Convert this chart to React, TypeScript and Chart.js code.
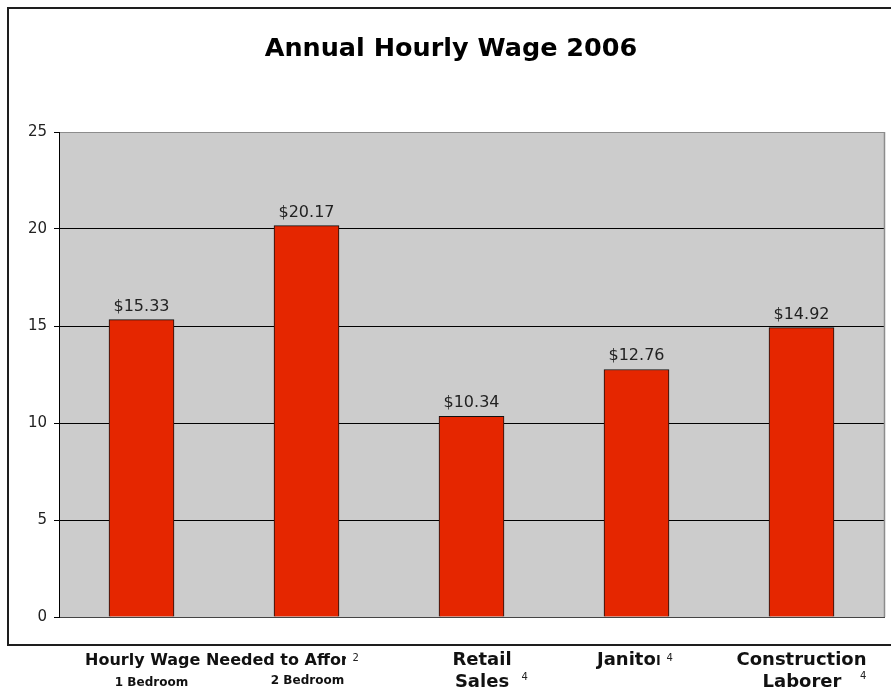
import React, { useEffect, useRef } from "react";
import { Chart, registerables } from "chart.js";

Chart.register(...registerables);

const categories = ["1 Bedroom", "2 Bedroom", "Retail Sales", "Janitor", "Construction Laborer"];
const wages = [15.33, 20.17, 10.34, 12.76, 14.92];
const yTickValues = [0, 5, 10, 15, 20, 25];
const chartTitle = "Annual Hourly Wage 2006";
const groupHeader = "Hourly Wage Needed to Afford";

const FONT = "'DejaVu Sans', Verdana, sans-serif";

const decorPlugin = {
  id: "decor",
  beforeDraw(chart: any) {
    const { ctx, chartArea } = chart;
    ctx.save();
    ctx.fillStyle = "#ffffff";
    ctx.fillRect(0, 0, chart.width, chart.height);
    ctx.fillStyle = "#cccccc";
    ctx.fillRect(chartArea.left, chartArea.top, chartArea.right - chartArea.left, chartArea.bottom - chartArea.top);
    // outer frame (open on right)
    ctx.strokeStyle = "#1e1e1e";
    ctx.lineWidth = 2;
    ctx.beginPath();
    ctx.moveTo(chart.width + 2, 8);
    ctx.lineTo(8, 8);
    ctx.lineTo(8, 645);
    ctx.lineTo(chart.width + 2, 645);
    ctx.stroke();
    // title
    ctx.fillStyle = "#000";
    ctx.font = `bold 25.5px ${FONT}`;
    ctx.textAlign = "center";
    ctx.textBaseline = "alphabetic";
    ctx.fillText(chartTitle, 451, 56);
    ctx.restore();
  },
  afterDatasetsDraw(chart: any) {
    const { ctx, chartArea } = chart;
    const meta = chart.getDatasetMeta(0);
    ctx.save();
    ctx.font = `16px ${FONT}`;
    ctx.fillStyle = "#222";
    ctx.textAlign = "center";
    ctx.textBaseline = "alphabetic";
    meta.data.forEach((bar: any, i: number) => {
      ctx.fillText("$" + wages[i].toFixed(2), bar.x, bar.y - 9);
    });
    // right plot edge
    ctx.strokeStyle = "#8c8c8c";
    ctx.lineWidth = 1.5;
    ctx.beginPath();
    ctx.moveTo(chartArea.right + 0.5, chartArea.top);
    ctx.lineTo(chartArea.right + 0.5, chartArea.bottom);
    ctx.stroke();
    ctx.restore();
  },
  afterDraw(chart: any) {
    const { ctx } = chart;
    const xs = chart.scales.x;
    const p = categories.map((_, i) => xs.getPixelForValue(i));
    const txt = (
      s: string,
      x: number,
      y: number,
      font: string,
      align: CanvasTextAlign,
      color = "#111",
      clipRight?: number
    ) => {
      ctx.save();
      if (clipRight !== undefined) {
        ctx.beginPath();
        ctx.rect(0, 0, clipRight, chart.height);
        ctx.clip();
      }
      ctx.font = font;
      ctx.fillStyle = color;
      ctx.textAlign = align;
      ctx.textBaseline = "alphabetic";
      ctx.fillText(s, x, y);
      ctx.restore();
    };
    const b16 = `bold 16px ${FONT}`;
    const b18 = `bold 18px ${FONT}`;
    const b12 = `bold 12px ${FONT}`;
    const sup = `10px ${FONT}`;
    const [bed1, bed2] = [categories[0], categories[1]];
    const [retail, sales] = categories[2].split(" ");
    const janitor = categories[3];
    const [constr, laborer] = categories[4].split(" ");

    txt(groupHeader, p[0] - 56.5, 665, b16, "left", "#111", p[1] + 39.5);
    txt("2", p[1] + 46, 661, sup, "left", "#222");
    txt(bed1, p[0] + 10, 686, b12, "center");
    txt(bed2, p[1] + 1, 684, b12, "center");

    txt(retail, p[2] + 10.5, 665, b18, "center");
    txt(sales, p[2] + 10.5, 687, b18, "center");
    txt("4", p[2] + 50, 680, sup, "left", "#222");

    txt(janitor, p[3] - 39.5, 665, b18, "left", "#111", p[3] + 23);
    txt("4", p[3] + 30, 661, sup, "left", "#222");

    txt(constr, p[4], 665, b18, "center");
    txt(laborer, p[4] + 0.5, 687, b18, "center");
    txt("4", p[4] + 58.5, 679, sup, "left", "#222");
  },
};

export default function App() {
  const canvasRef = useRef<HTMLCanvasElement | null>(null);

  useEffect(() => {
    if (!canvasRef.current) return;
    const chart = new Chart(canvasRef.current, {
      type: "bar",
      data: {
        labels: categories,
        datasets: [
          {
            data: wages,
            backgroundColor: "#e52600",
            borderColor: "#111",
            borderWidth: 1,
            barThickness: 65,
          },
        ],
      },
      options: {
        animation: false,
        responsive: false,
        devicePixelRatio: 1,
        layout: { padding: { left: 8, right: 7, top: 132, bottom: 73 } },
        plugins: {
          legend: { display: false },
          title: { display: false },
          tooltip: { enabled: false },
        },
        scales: {
          x: {
            ticks: { display: false },
            grid: { display: false, drawTicks: false },
            border: { display: true, color: "#444", width: 1 },
          },
          y: {
            min: 0,
            max: 25,
            afterBuildTicks: (scale: any) => {
              scale.ticks = yTickValues.map((v) => ({ value: v }));
            },
            afterFit: (scale: any) => {
              scale.width = 51;
            },
            ticks: {
              font: { family: FONT, size: 15 },
              color: "#222",
              padding: 7,
            },
            grid: {
              color: (c: any) => (c.tick && c.tick.value === 25 ? "#8c8c8c" : "#000"),
              tickColor: "#000",
              tickLength: 5,
              lineWidth: 1,
            },
            border: { display: true, color: "#000", width: 1 },
          },
        },
      },
      plugins: [decorPlugin],
    });
    return () => chart.destroy();
  }, []);

  return (
    <div style={{ position: "absolute", left: 0, top: 0, width: 891, height: 690, background: "#fff" }}>
      <canvas ref={canvasRef} width={891} height={690} style={{ display: "block" }} />
    </div>
  );
}
